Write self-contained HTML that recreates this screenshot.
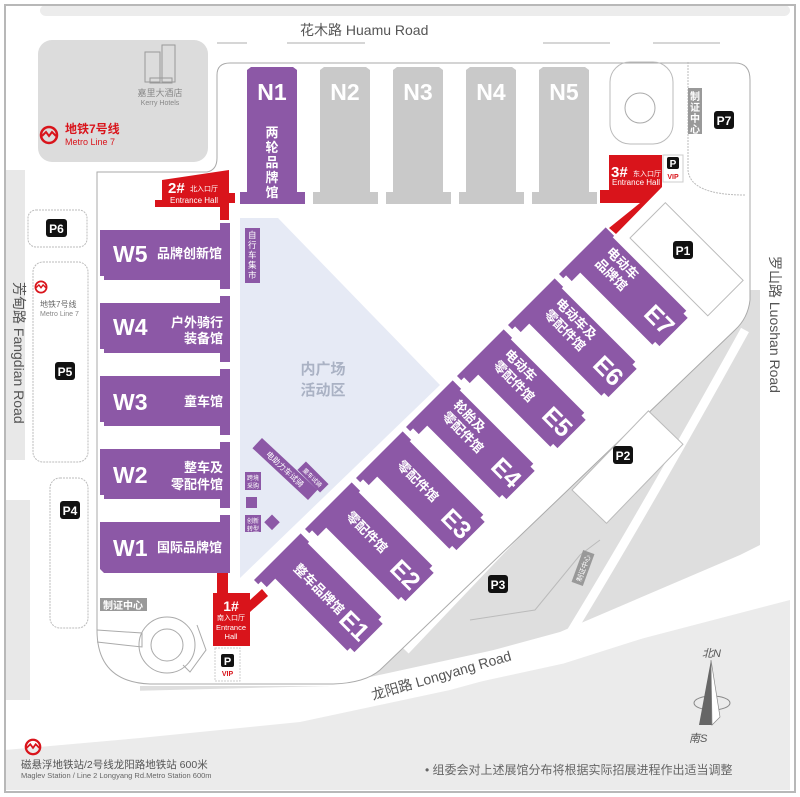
<!DOCTYPE html>
<html><head><meta charset="utf-8"><style>
html,body{margin:0;padding:0;background:#fff;}
svg{display:block;font-family:"Liberation Sans","Noto Sans CJK SC",sans-serif;}
.w{fill:#fff;font-weight:bold;}
.p{fill:#8c58a6;}
.g{fill:#c9c9c9;}
</style></head><body>
<svg width="800" height="797" viewBox="0 0 800 797" xmlns="http://www.w3.org/2000/svg">
<rect x="0" y="0" width="800" height="797" fill="#fff"/>
<!-- grey background areas -->
<rect x="40" y="5" width="750" height="11" rx="6" fill="#ececec"/>
<path d="M5,790 L5,750 L140,738 L300,722 L450,690 L560,660 L790,600 L790,790 Z" fill="#ebebeb"/>
<path d="M140,693 L330,692 L420,670 L560,632 L740,555 L760,545 L760,290 L745,290 L700,335 L390,650 L340,686 L140,686 Z" fill="#dedede"/>
<path d="M405,650 L700,340" stroke="#fff" stroke-width="10" fill="none"/>
<path d="M560,650 Q640,520 745,330" stroke="#fff" stroke-width="9" fill="none"/>
<path d="M130,705 L330,700 L560,650 L780,580" stroke="#fff" stroke-width="28" fill="none"/>
<path d="M5,170 L25,170 L25,460 L5,460 Z" fill="#e8e8e8"/>
<path d="M5,500 L30,500 L30,700 L5,700 Z" fill="#e8e8e8"/>
<rect x="38" y="40" width="170" height="122" rx="14" fill="#dcdcdc"/>
<rect x="760" y="290" width="30" height="300" fill="#fff"/>
<rect x="5" y="5" width="790" height="787" fill="none" stroke="#b8b8b8" stroke-width="2"/>
<!-- road marks -->
<g stroke="#c8c8c8" stroke-width="1.5">
<line x1="217" y1="43" x2="247" y2="43"/><line x1="287" y1="43" x2="365" y2="43"/>
<line x1="543" y1="43" x2="610" y2="43"/><line x1="653" y1="43" x2="720" y2="43"/>
</g>
<!-- venue outline -->
<path d="M97,172 L207,172 Q217,170 217,158 L217,75 Q217,63 230,63 L735,63 Q750,63 750,80 L750,300 Q748,318 735,330 L380,670 Q365,683 333,684 L150,684 Q97,682 97,630 Z" fill="#fff" stroke="#aaa" stroke-width="1"/>
<path d="M97,172 L207,172" stroke="#aaa" fill="none"/>
<!-- top-right circle area -->
<rect x="610" y="62" width="63" height="82" rx="20" fill="none" stroke="#bbb"/>
<circle cx="640" cy="108" r="15" fill="none" stroke="#aaa"/>
<path d="M688,62 L688,170 Q690,195 745,195" fill="none" stroke="#bbb" stroke-dasharray="2,1"/>
<rect x="688" y="88" width="14" height="46" fill="#999"/>
<text font-size="10" fill="#fff" font-weight="bold"><tspan x="690" y="100">制</tspan><tspan x="690" y="111">证</tspan><tspan x="690" y="122">中</tspan><tspan x="690" y="133">心</tspan></text>
<!-- bottom-left circle -->
<circle cx="167" cy="645" r="28" fill="none" stroke="#aaa"/>
<circle cx="167" cy="645" r="16" fill="none" stroke="#aaa"/>
<path d="M97,630 L142,633 L142,647 L97,642" fill="none" stroke="#aaa"/>
<path d="M197,625 L206,650 L190,672 L183,665" fill="none" stroke="#aaa"/>
<rect x="100" y="598" width="47" height="13" fill="#999"/>
<text x="103" y="609" font-size="10" fill="#fff" font-weight="bold">制证中心</text>
<!-- hotel -->
<g fill="none" stroke="#999" stroke-width="1">
<rect x="145" y="52" width="15" height="30"/><rect x="162" y="45" width="13" height="37"/><rect x="150" y="78" width="22" height="5"/>
</g>
<text x="160" y="96" font-size="9" fill="#888" text-anchor="middle">嘉里大酒店</text>
<text x="160" y="105" font-size="7" fill="#888" text-anchor="middle">Kerry Hotels</text>
<!-- metro icon def -->
<g id="m1" transform="translate(49,135)">
<circle r="8" fill="none" stroke="#d9141b" stroke-width="2.5"/>
<path d="M-7,1 L-3,-3 L0,1 L3,-3 L7,1" fill="none" stroke="#d9141b" stroke-width="2"/>
</g>
<text x="65" y="133" font-size="12" fill="#d9141b" font-weight="bold">地铁7号线</text>
<text x="65" y="145" font-size="9" fill="#d9141b">Metro Line 7</text>
<!-- left dotted areas -->
<g fill="#fff" stroke="#bbb" stroke-dasharray="2,1">
<rect x="28" y="210" width="59" height="37" rx="8"/>
<rect x="33" y="262" width="55" height="200" rx="10"/>
<rect x="50" y="478" width="38" height="150" rx="10"/>
</g>
<g transform="translate(41,287) scale(0.7)">
<circle r="8" fill="none" stroke="#d9141b" stroke-width="2.5"/>
<path d="M-7,1 L-3,-3 L0,1 L3,-3 L7,1" fill="none" stroke="#d9141b" stroke-width="2"/>
</g>
<text x="40" y="307" font-size="8" fill="#666">地铁7号线</text>
<text x="40" y="316" font-size="7" fill="#888">Metro Line 7</text>
<!-- plaza -->
<polygon points="240,218 278,218 440,385 240,578" fill="#e6eaf5"/>
<text x="323" y="374" font-size="15" fill="#aab2c4" font-weight="bold" text-anchor="middle">内广场</text>
<text x="323" y="395" font-size="15" fill="#aab2c4" font-weight="bold" text-anchor="middle">活动区</text>
<!-- N halls -->
<g id="n">
<path d="M247,70 L251,67 L293,67 L297,70 L297,192 L305,192 L305,204 L240,204 L240,192 L247,192 Z" class="p"/>
</g>
<path d="M320,70 L324,67 L366,67 L370,70 L370,192 L378,192 L378,204 L313,204 L313,192 L320,192 Z" class="g"/>
<path d="M393,70 L397,67 L439,67 L443,70 L443,192 L451,192 L451,204 L386,204 L386,192 L393,192 Z" class="g"/>
<path d="M466,70 L470,67 L512,67 L516,70 L516,192 L524,192 L524,204 L459,204 L459,192 L466,192 Z" class="g"/>
<path d="M539,70 L543,67 L585,67 L589,70 L589,192 L597,192 L597,204 L532,204 L532,192 L539,192 Z" class="g"/>
<g class="w" font-size="23" text-anchor="middle">
<text x="272" y="100">N1</text><text x="345" y="100">N2</text><text x="418" y="100">N3</text><text x="491" y="100">N4</text><text x="564" y="100">N5</text>
</g>
<text class="w" font-size="13" text-anchor="middle"><tspan x="272" y="137">两</tspan><tspan x="272" y="152">轮</tspan><tspan x="272" y="167">品</tspan><tspan x="272" y="182">牌</tspan><tspan x="272" y="197">馆</tspan></text>
<!-- W halls -->
<g class="p">
<path d="M100,230 L220,230 L220,223 L230,223 L230,289 L220,289 L220,280 L104,280 L104,276 L100,276 Z"/>
<path d="M100,303 L220,303 L220,296 L230,296 L230,362 L220,362 L220,353 L104,353 L104,349 L100,349 Z"/>
<path d="M100,376 L220,376 L220,369 L230,369 L230,435 L220,435 L220,426 L104,426 L104,422 L100,422 Z"/>
<path d="M100,449 L220,449 L220,442 L230,442 L230,508 L220,508 L220,499 L104,499 L104,495 L100,495 Z"/>
<path d="M100,522 L220,522 L220,515 L230,515 L230,573 L104,573 L100,569 Z"/>
</g>
<g class="w" font-size="23">
<text x="113" y="262">W5</text><text x="113" y="335">W4</text><text x="113" y="410">W3</text><text x="113" y="483">W2</text><text x="113" y="556">W1</text>
</g>
<g class="w" font-size="13">
<text x="157" y="258">品牌创新馆</text>
<text x="223" y="327" text-anchor="end">户外骑行</text><text x="223" y="343" text-anchor="end">装备馆</text>
<text x="223" y="406" text-anchor="end">童车馆</text>
<text x="223" y="472" text-anchor="end">整车及</text><text x="223" y="489" text-anchor="end">零配件馆</text>
<text x="157" y="552">国际品牌馆</text>
</g>
<!-- plaza small items -->
<rect x="245" y="228" width="15" height="55" class="p"/>
<text font-size="8.5" fill="#fff"><tspan x="248" y="238">自</tspan><tspan x="248" y="248">行</tspan><tspan x="248" y="258">车</tspan><tspan x="248" y="268">集</tspan><tspan x="248" y="278">市</tspan></text>
<g transform="translate(285,469) rotate(43)"><rect x="-38" y="-7" width="76" height="14" class="p"/><text x="0" y="3" font-size="8" fill="#fff" text-anchor="middle">电助力车试骑</text></g>
<g transform="translate(313,477) rotate(45)"><rect x="-16" y="-6" width="32" height="12" class="p"/><text x="0" y="3" font-size="6" fill="#fff" text-anchor="middle">童车试骑</text></g>
<rect x="245" y="472" width="16" height="18" class="p"/>
<text font-size="6" fill="#fff"><tspan x="247" y="480">跨境</tspan><tspan x="247" y="488">采购</tspan></text>
<rect x="246" y="497" width="11" height="11" class="p"/>
<rect x="245" y="515" width="16" height="17" class="p"/>
<text font-size="6" fill="#fff"><tspan x="247" y="523">创新</tspan><tspan x="247" y="531">转型</tspan></text>
<rect x="266" y="517" width="11" height="11" class="p" transform="rotate(45 272 523)"/>
<!-- P1 / P2 white rects -->
<g transform="translate(630,238) rotate(45)"><rect x="0" y="-50" width="110" height="50" fill="#fff" stroke="#bbb"/></g>
<g transform="translate(572,490) rotate(-46)"><rect x="0" y="0" width="110" height="48" fill="#fff" stroke="#bbb"/></g>
<path d="M470,620 L535,610 L580,555 L600,540" fill="none" stroke="#bbb"/>
<g transform="translate(583,568) rotate(-70)"><rect x="-17" y="-6" width="34" height="12" fill="#999"/><text x="0" y="3" font-size="7" fill="#fff" text-anchor="middle">制证中心</text></g>
<!-- E halls -->
<defs>
<path id="eh" d="M0,0 L0,-66 L12,-66 L12,-64 L116,-64 L116,-60 L122,-60 L122,-20 L116,-20 L116,-16 L14,-16 L14,-4 L6,-4 L6,0 Z"/>
</defs>
<g class="p">
<use href="#eh" transform="translate(254,580) rotate(45)"/>
<use href="#eh" transform="translate(305,529) rotate(45)"/>
<use href="#eh" transform="translate(356,478) rotate(45)"/>
<use href="#eh" transform="translate(406,427) rotate(45)"/>
<use href="#eh" transform="translate(457,376) rotate(45)"/>
<use href="#eh" transform="translate(508,325) rotate(45)"/>
<use href="#eh" transform="translate(559,274) rotate(45)"/>
</g>
<g class="w">
<g transform="translate(254,580) rotate(45)"><text x="20" y="-35" font-size="13">整车品牌馆</text><text x="88" y="-30" font-size="25">E1</text></g>
<g transform="translate(305,529) rotate(45)"><text x="20" y="-37" font-size="13">零配件馆</text><text x="88" y="-30" font-size="25">E2</text></g>
<g transform="translate(356,478) rotate(45)"><text x="20" y="-37" font-size="13">零配件馆</text><text x="88" y="-30" font-size="25">E3</text></g>
<g transform="translate(406,427) rotate(45)"><text x="18" y="-48" font-size="13">轮胎及</text><text x="18" y="-32" font-size="13">零配件馆</text><text x="88" y="-30" font-size="25">E4</text></g>
<g transform="translate(457,376) rotate(45)"><text x="18" y="-48" font-size="13">电动车</text><text x="18" y="-32" font-size="13">零配件馆</text><text x="88" y="-30" font-size="25">E5</text></g>
<g transform="translate(508,325) rotate(45)"><text x="18" y="-48" font-size="13">电动车及</text><text x="18" y="-32" font-size="13">零配件馆</text><text x="88" y="-30" font-size="25">E6</text></g>
<g transform="translate(559,274) rotate(45)"><text x="18" y="-48" font-size="13">电动车</text><text x="18" y="-32" font-size="13">品牌馆</text><text x="88" y="-30" font-size="25">E7</text></g>
</g>
<!-- entrances -->
<path d="M162,180 L229,170 L229,193 L235,193 L235,203 L229,203 L229,220 L220,220 L220,207 L155,207 L155,200 L162,200 Z" fill="#d9141b"/>
<text x="168" y="193" class="w" font-size="15">2#</text><text x="190" y="191" font-size="7" fill="#fff">北入口厅</text>
<text x="170" y="203" font-size="8" fill="#fff">Entrance Hall</text>
<path d="M609,155 L662,155 L662,187 L616,234 L609,228 L640,203 L600,203 L600,190 L609,190 Z" fill="#d9141b"/>
<text x="611" y="177" class="w" font-size="15">3#</text><text x="633" y="176" font-size="7" fill="#fff">东入口厅</text>
<text x="612" y="185" font-size="8" fill="#fff">Entrance Hall</text>
<path d="M217,573 L228,573 L228,593 L250,593 L250,600 L262,589 L268,596 L250,612 L250,646 L213,646 L213,593 L217,593 Z" fill="#d9141b"/>
<text x="231" y="611" class="w" font-size="14" text-anchor="middle">1#</text>
<text x="231" y="620" font-size="7" fill="#fff" text-anchor="middle">南入口厅</text>
<text x="231" y="630" font-size="7.5" fill="#fff" text-anchor="middle">Entrance</text>
<text x="231" y="639" font-size="7.5" fill="#fff" text-anchor="middle">Hall</text>
<!-- VIP P -->
<rect x="663" y="155" width="20" height="27" fill="#fff" stroke="#ccc"/>
<rect x="667" y="157" width="12" height="12" rx="2" fill="#111"/><text x="673" y="167" class="w" font-size="10" text-anchor="middle">P</text>
<text x="673" y="179" font-size="7" fill="#d9141b" font-weight="bold" text-anchor="middle">VIP</text>
<rect x="215" y="648" width="25" height="33" fill="#fff" stroke="#ccc" stroke-dasharray="2,1"/>
<rect x="221" y="654" width="13" height="13" rx="2" fill="#111"/><text x="227.5" y="665" class="w" font-size="11" text-anchor="middle">P</text>
<text x="227.5" y="676" font-size="7" fill="#d9141b" font-weight="bold" text-anchor="middle">VIP</text>
<!-- P markers -->
<g font-size="12">
<rect x="46" y="219" width="21" height="18" rx="3" fill="#111"/><text x="56.5" y="233" class="w" text-anchor="middle">P6</text>
<rect x="55" y="362" width="20" height="18" rx="3" fill="#111"/><text x="65" y="376" class="w" text-anchor="middle">P5</text>
<rect x="60" y="501" width="20" height="18" rx="3" fill="#111"/><text x="70" y="515" class="w" text-anchor="middle">P4</text>
<rect x="714" y="111" width="20" height="18" rx="3" fill="#111"/><text x="724" y="125" class="w" text-anchor="middle">P7</text>
<rect x="673" y="241" width="20" height="18" rx="3" fill="#111"/><text x="683" y="255" class="w" text-anchor="middle">P1</text>
<rect x="613" y="446" width="20" height="18" rx="3" fill="#111"/><text x="623" y="460" class="w" text-anchor="middle">P2</text>
<rect x="488" y="575" width="20" height="18" rx="3" fill="#111"/><text x="498" y="589" class="w" text-anchor="middle">P3</text>
</g>
<!-- roads labels -->
<text x="300" y="35" font-size="14" fill="#555">花木路  Huamu Road</text>
<text transform="translate(14,282) rotate(90)" font-size="14" fill="#555">芳甸路  Fangdian Road</text>
<text transform="translate(770,256) rotate(90)" font-size="14" fill="#555">罗山路  Luoshan Road</text>
<text transform="translate(373,700) rotate(-16)" font-size="14" fill="#555">龙阳路  Longyang Road</text>
<!-- compass -->
<ellipse cx="712" cy="703" rx="18" ry="7" fill="none" stroke="#888"/>
<polygon points="711,660 712,725 699,725" fill="#666"/>
<polygon points="711,660 712,725 720,717" fill="#fff" stroke="#888" stroke-width="0.7"/>
<text x="702" y="657" font-size="11" fill="#555" font-style="italic">北N</text>
<text x="689" y="742" font-size="11" fill="#555" font-style="italic">南S</text>
<!-- bottom -->
<g transform="translate(33,747) scale(0.9)">
<circle r="8" fill="none" stroke="#d9141b" stroke-width="2.5"/>
<path d="M-7,1 L-3,-3 L0,1 L3,-3 L7,1" fill="none" stroke="#d9141b" stroke-width="2"/>
</g>
<text x="21" y="768" font-size="10.5" fill="#555">磁悬浮地铁站/2号线龙阳路地铁站  600米</text>
<text x="21" y="778" font-size="7.5" fill="#666">Maglev Station / Line 2 Longyang Rd.Metro Station 600m</text>
<text x="425" y="774" font-size="12" fill="#666">• 组委会对上述展馆分布将根据实际招展进程作出适当调整</text>
</svg>
</body></html>
